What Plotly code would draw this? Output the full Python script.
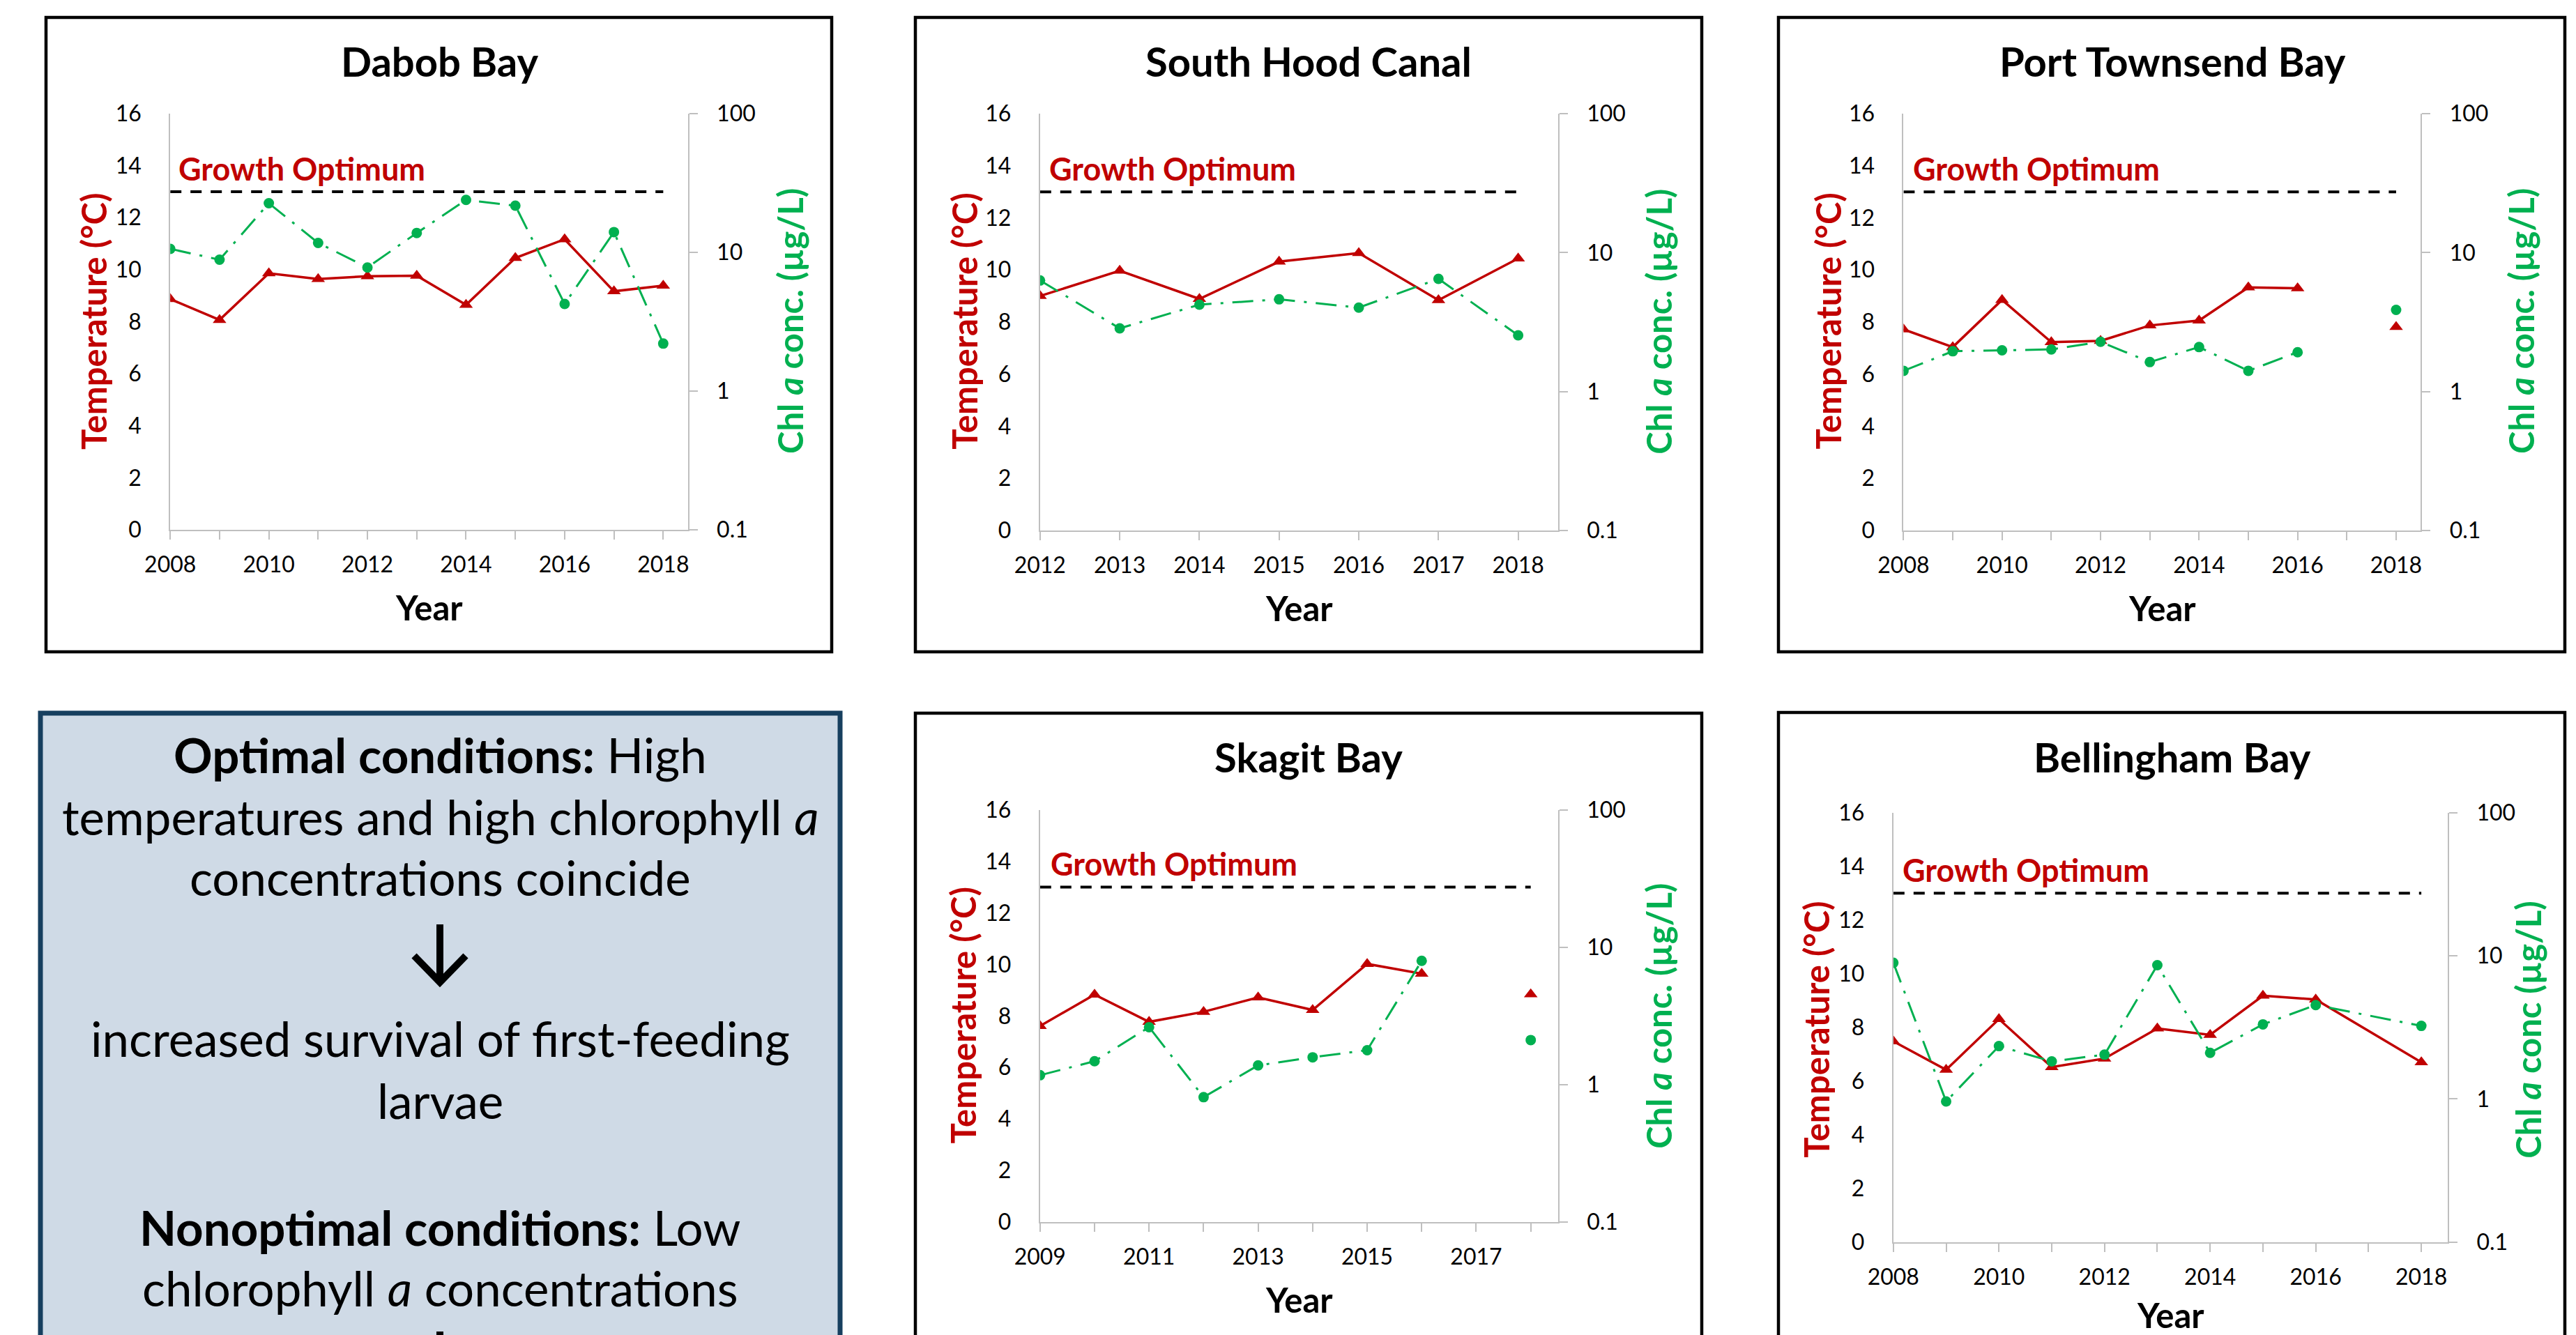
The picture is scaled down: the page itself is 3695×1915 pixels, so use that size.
import plotly.graph_objects as go

# ---------------- data ----------------
dabob_years = [2008, 2009, 2010, 2011, 2012, 2013, 2014, 2015, 2016, 2017, 2018]
dabob_temp = [8.87, 8.07, 9.86, 9.64, 9.75, 9.77, 8.65, 10.45, 11.17, 9.17, 9.39]
dabob_chl = [10.6, 8.85, 22.6, 11.7, 7.78, 13.8, 23.9, 21.7, 4.25, 14.0, 2.20]

hood_years = [2012, 2013, 2014, 2015, 2016, 2017, 2018]
hood_temp = [9.00, 9.97, 8.89, 10.32, 10.65, 8.84, 10.44]
hood_chl = [6.30, 2.85, 4.22, 4.61, 4.02, 6.47, 2.54]

pt_years = [2008, 2009, 2010, 2011, 2012, 2013, 2014, 2015, 2016, 2017, 2018]
pt_temp = [7.72, 7.04, 8.85, 7.23, 7.28, 7.87, 8.06, 9.33, 9.30, None, 7.81]
pt_chl = [1.41, 1.95, 1.98, 2.01, 2.28, 1.63, 2.09, 1.41, 1.92, None, 3.87]

skagit_years = [2009, 2010, 2011, 2012, 2013, 2014, 2015, 2016, 2017, 2018]
skagit_temp = [7.61, 8.83, 7.77, 8.16, 8.72, 8.23, 10.02, 9.64, None, 8.84]
skagit_chl = [1.17, 1.48, 2.62, 0.81, 1.38, 1.58, 1.78, 7.96, None, 2.11]

bell_years = [2008, 2009, 2010, 2011, 2012, 2013, 2014, 2015, 2016, 2017, 2018]
bell_temp = [7.48, 6.42, 8.31, 6.52, 6.84, 7.96, 7.72, 9.18, 9.04, None, 6.70]
bell_chl = [8.94, 0.96, 2.34, 1.83, 2.04, 8.60, 2.10, 3.32, 4.53, None, 3.24]

growth_optimum = 13

temp_ticks = [0, 2, 4, 6, 8, 10, 12, 14, 16]
chl_tickvals = [0.1, 1, 10, 100]
chl_ticktext = ["0.1", "1", "10", "100"]

ticks_even_2008 = [2008, 2010, 2012, 2014, 2016, 2018]
ticks_hood = [2012, 2013, 2014, 2015, 2016, 2017, 2018]
ticks_skagit = [2009, 2011, 2013, 2015, 2017]

text_lines = [
    "<b>Optimal conditions:</b> High",
    "temperatures and high chlorophyll <i>a</i>",
    "concentrations coincide",
    "increased survival of first-feeding",
    "larvae",
    "<b>Nonoptimal conditions:</b> Low",
    "chlorophyll <i>a</i> concentrations",
]

# ---------------- styling / layout ----------------
W, H = 3695, 1915
FONT = "Lato"
RED = "#C00000"
GREEN = "#00B050"
GRAY = "#BFBFBF"


def fx(p):
    return p / W


def fy(p):
    return 1 - p / H


panels = [
    dict(title="Dabob Bay", years=dabob_years, temp=dabob_temp, chl=dabob_chl,
         ticks=ticks_even_2008, box=(66, 25, 1193, 935),
         plot=(244.2, 986.7, 163, 760), title_xy=(630, 87.5),
         lt_x=134, rt_x=1133, ty=461, year_y=871, go_xy=(254, 242),
         chl_title="Chl <i>a</i> conc. (µg/L)", connect=False),
    dict(title="South Hood Canal", years=hood_years, temp=hood_temp, chl=hood_chl,
         ticks=ticks_hood, box=(1313, 25, 2441, 935),
         plot=(1491.8, 2234.8, 163, 761), title_xy=(1877, 87.5),
         lt_x=1382.7, rt_x=2378.8, ty=461, year_y=872, go_xy=(1502.7, 242),
         chl_title="Chl <i>a</i> conc. (µg/L)", connect=False),
    dict(title="Port Townsend Bay", years=pt_years, temp=pt_temp, chl=pt_chl,
         ticks=ticks_even_2008, box=(2551, 25, 3679, 935),
         plot=(2730.4, 3472.3, 163, 761), title_xy=(3116, 87.5),
         lt_x=2621.6, rt_x=3616, ty=461, year_y=872, go_xy=(2742, 242),
         chl_title="Chl <i>a</i> conc. (µg/L)", connect=False),
    dict(title="Skagit Bay", years=skagit_years, temp=skagit_temp, chl=skagit_chl,
         ticks=ticks_skagit, box=(1313, 1023, 2441, 2100),
         plot=(1491.8, 2234.8, 1161.8, 1752.8), title_xy=(1877, 1085),
         lt_x=1380.5, rt_x=2378.8, ty=1457, year_y=1864, go_xy=(1504.9, 1238.6),
         chl_title="Chl <i>a</i> conc. (µg/L)", connect=False),
    dict(title="Bellingham Bay", years=bell_years, temp=bell_temp, chl=bell_chl,
         ticks=ticks_even_2008, box=(2551, 1022, 3679, 2100),
         plot=(2715.8, 3511, 1165.8, 1781.7), title_xy=(3116, 1085),
         lt_x=2604.8, rt_x=3625.7, ty=1477, year_y=1886, go_xy=(2726.7, 1247.8),
         chl_title="Chl <i>a</i> conc (µg/L)", connect=True),
]

fig = go.Figure()
layout = dict(
    template="none",
    width=W, height=H, autosize=False,
    margin=dict(l=0, r=0, t=0, b=0, pad=0, autoexpand=False),
    paper_bgcolor="white", plot_bgcolor="rgba(0,0,0,0)",
    showlegend=False, font=dict(family=FONT, color="black"),
)
annotations = []
shapes = []

for i, p in enumerate(panels):
    n = i + 1
    xa = "x" if n == 1 else f"x{n}"
    ya = "y" if n == 1 else f"y{2 * n - 1}"
    ya2 = f"y{2 * n}"
    xl, xr, yt, yb = p["plot"]
    x0 = p["years"][0]

    # growth optimum dashed line
    fig.add_trace(go.Scatter(
        x=[x0, 2018], y=[growth_optimum, growth_optimum], xaxis=xa, yaxis=ya,
        mode="lines", line=dict(color="black", width=4, dash="16px,13px"),
        hoverinfo="skip"))
    # chlorophyll (right, log)
    fig.add_trace(go.Scatter(
        x=p["years"], y=p["chl"], xaxis=xa, yaxis=ya2, mode="lines+markers",
        connectgaps=p["connect"],
        line=dict(color=GREEN, width=3, dash="30px,13px,4px,13px"),
        marker=dict(symbol="circle", size=15, color=GREEN, line=dict(width=0))))
    # temperature (left)
    fig.add_trace(go.Scatter(
        x=p["years"], y=p["temp"], xaxis=xa, yaxis=ya, mode="lines+markers",
        connectgaps=p["connect"],
        line=dict(color=RED, width=3.5),
        marker=dict(symbol="triangle-up", size=17, color=RED, line=dict(width=0))))

    xkey = "xaxis" if n == 1 else f"xaxis{n}"
    ykey = "yaxis" if n == 1 else f"yaxis{2 * n - 1}"
    y2key = f"yaxis{2 * n}"
    layout[xkey] = dict(
        domain=[fx(xl), fx(xr)], anchor=ya, range=[x0, 2018.5], automargin=False,
        tickmode="array", tickvals=p["ticks"], ticktext=[str(t) for t in p["ticks"]],
        ticks="outside", ticklen=12, tickwidth=2, tickcolor=GRAY,
        minor=dict(tickmode="array", tickvals=p["years"], ticks="outside",
                   ticklen=12, tickwidth=2, tickcolor=GRAY, showgrid=False),
        showline=True, linecolor=GRAY, linewidth=2, showgrid=False, zeroline=False,
        tickfont=dict(family=FONT, size=32, color="black"), ticklabelstandoff=9,
        fixedrange=True)
    layout[ykey] = dict(
        domain=[fy(yb), fy(yt)], anchor=xa, range=[0, 16], automargin=False,
        tickmode="array", tickvals=temp_ticks, ticktext=[str(t) for t in temp_ticks],
        ticks="", showline=True, linecolor=GRAY, linewidth=2, showgrid=False,
        zeroline=False, tickfont=dict(family=FONT, size=32, color="black"),
        ticklabelstandoff=33, fixedrange=True)
    layout[y2key] = dict(
        overlaying=ya, anchor=xa, side="right", type="log", range=[-1, 2],
        automargin=False,
        tickmode="array", tickvals=chl_tickvals, ticktext=chl_ticktext,
        ticks="outside", ticklen=12, tickwidth=2, tickcolor=GRAY,
        showline=True, linecolor=GRAY, linewidth=2, showgrid=False, zeroline=False,
        tickfont=dict(family=FONT, size=32, color="black"), ticklabelstandoff=21,
        fixedrange=True)

    bx0, by0, bx1, by1 = p["box"]
    shapes.append(dict(type="rect", xref="paper", yref="paper",
                       x0=fx(bx0), x1=fx(bx1), y0=fy(by1), y1=fy(by0),
                       line=dict(color="black", width=4.5), fillcolor="rgba(0,0,0,0)",
                       layer="below"))
    tx, tyy = p["title_xy"]
    annotations.append(dict(text=f"<b>{p['title']}</b>", x=fx(tx), y=fy(tyy),
                            xref="paper", yref="paper", showarrow=False,
                            xanchor="center", yanchor="middle",
                            font=dict(family=FONT, size=58, color="black")))
    gx, gy = p["go_xy"]
    annotations.append(dict(text="<b>Growth Optimum</b>", x=fx(gx), y=fy(gy),
                            xref="paper", yref="paper", showarrow=False,
                            xanchor="left", yanchor="middle",
                            font=dict(family=FONT, size=45, color=RED)))
    annotations.append(dict(text="<b>Temperature (°C)</b>", x=fx(p["lt_x"]), y=fy(p["ty"]),
                            xref="paper", yref="paper", showarrow=False, textangle=-90,
                            xanchor="center", yanchor="middle",
                            font=dict(family=FONT, size=49, color=RED)))
    annotations.append(dict(text=f"<b>{p['chl_title']}</b>", x=fx(p["rt_x"]), y=fy(p["ty"]),
                            xref="paper", yref="paper", showarrow=False, textangle=-90,
                            xanchor="center", yanchor="middle",
                            font=dict(family=FONT, size=49, color=GREEN)))
    annotations.append(dict(text="<b>Year</b>", x=fx((xl + xr) / 2), y=fy(p["year_y"]),
                            xref="paper", yref="paper", showarrow=False,
                            xanchor="center", yanchor="middle",
                            font=dict(family=FONT, size=49, color="black")))

# text box
shapes.insert(0, dict(type="rect", xref="paper", yref="paper",
                      x0=fx(58), x1=fx(1205), y0=fy(2100), y1=fy(1023),
                      line=dict(color="#173F5F", width=7), fillcolor="#CFDAE6",
                      layer="below"))
line_y = [1082, 1171, 1258, 1489, 1578, 1760, 1847]
cx = 631
for t, yy in zip(text_lines, line_y):
    annotations.append(dict(text=t, x=fx(cx), y=fy(yy), xref="paper", yref="paper",
                            showarrow=False, xanchor="center", yanchor="middle",
                            font=dict(family=FONT, size=69, color="black")))
# arrows in the text box
for top in (1326, 1910):
    shapes.append(dict(type="path", xref="paper", yref="paper",
                       path=(f"M {fx(cx)},{fy(top)} L {fx(cx)},{fy(top + 82)} "
                             f"M {fx(cx - 37)},{fy(top + 45)} L {fx(cx)},{fy(top + 83)} "
                             f"L {fx(cx + 37)},{fy(top + 45)}"),
                       line=dict(color="black", width=10)))

layout["annotations"] = annotations
layout["shapes"] = shapes
fig.update_layout(**layout)
fig.write_html("out.html",
               config={"displayModeBar": False, "staticPlot": True},
               post_script="document.body.style.margin='0px';"
                           "document.body.style.overflow='hidden';")
